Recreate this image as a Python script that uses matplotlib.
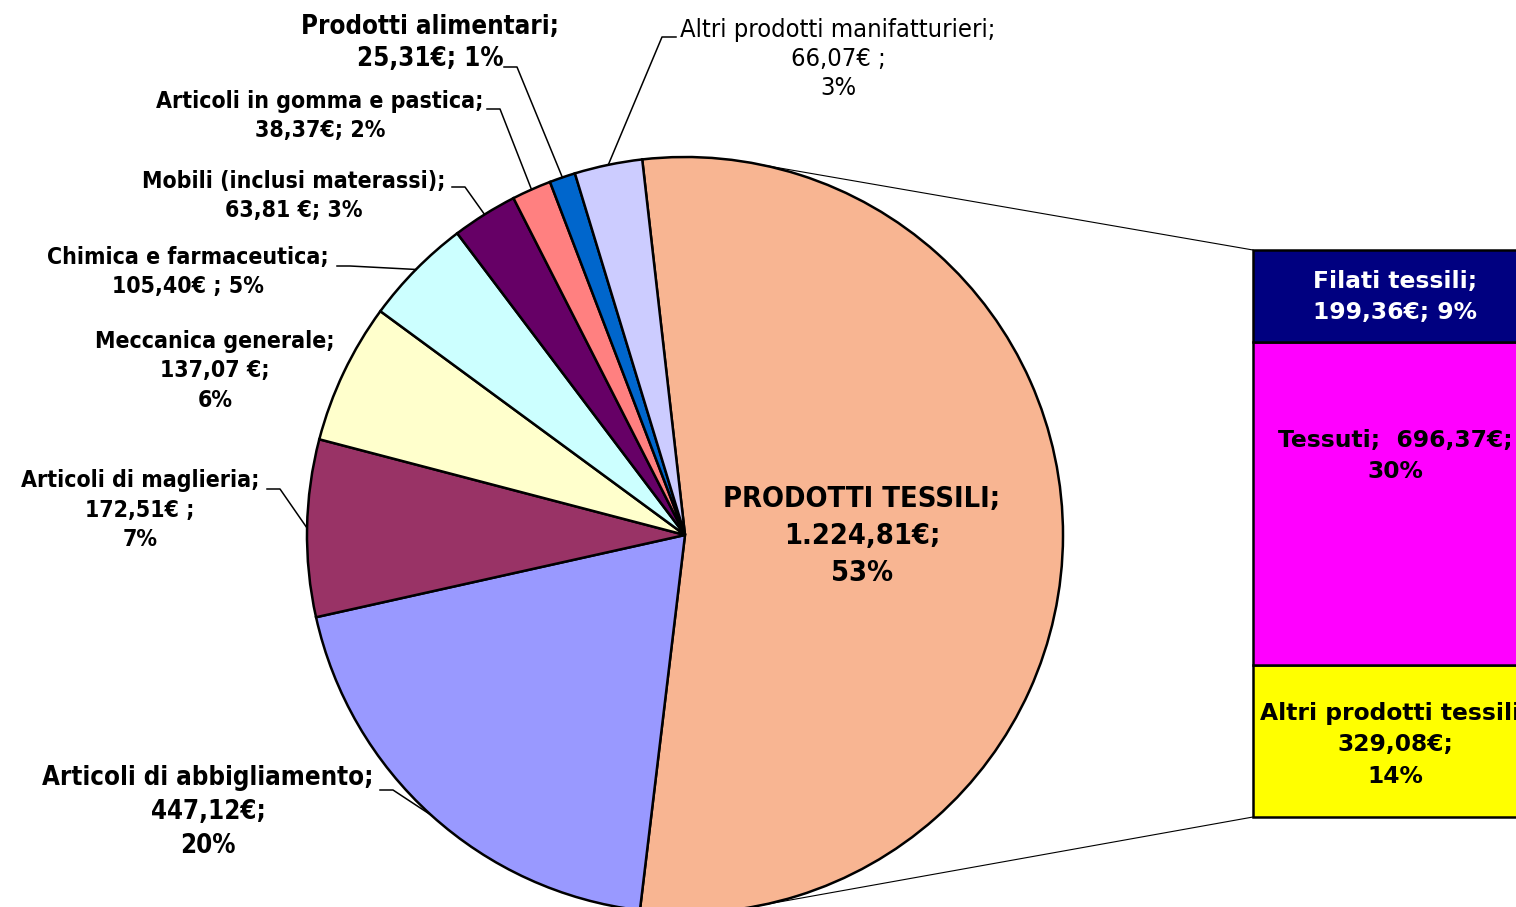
import numpy as np
import matplotlib
matplotlib.use("Agg")
import matplotlib.pyplot as plt

# pie data (€ and share)
pie_labels = ["PRODOTTI TESSILI", "Articoli di abbigliamento", "Articoli di maglieria",
              "Meccanica generale", "Chimica e farmaceutica", "Mobili (inclusi materassi)",
              "Articoli in gomma e pastica", "Prodotti alimentari",
              "Altri prodotti manifatturieri"]
pie_values = [1224.81, 447.12, 172.51, 137.07, 105.40, 63.81, 38.37, 25.31, 66.07]
pie_colors = ["#F8B592", "#9999FF", "#993366", "#FFFFCC", "#CCFFFF", "#660066",
              "#FF8080", "#0066CC", "#CCCCFF"]
pie_texts = ["PRODOTTI TESSILI;\n1.224,81€;\n53%",
             "Articoli di abbigliamento;\n447,12€;\n20%",
             "Articoli di maglieria;\n172,51€ ;\n7%",
             "Meccanica generale;\n137,07 €;\n6%",
             "Chimica e farmaceutica;\n105,40€ ; 5%",
             "Mobili (inclusi materassi);\n63,81 €; 3%",
             "Articoli in gomma e pastica;\n38,37€; 2%",
             "Prodotti alimentari;\n25,31€; 1%",
             "Altri prodotti manifatturieri;\n66,07€ ;\n3%"]

# breakdown of PRODOTTI TESSILI (bottom to top)
bar_labels = ["Altri prodotti tessili", "Tessuti", "Filati tessili"]
bar_values = [329.08, 696.37, 199.36]
bar_colors = ["#FFFF00", "#FF00FF", "#000080"]
bar_texts = ["Altri prodotti tessili;\n329,08€;\n14%",
             "Tessuti;  696,37€;\n30%",
             "Filati tessili;\n199,36€; 9%"]

W, H = 1516, 907
def py(y):
    # pixel row (from top) -> data y
    return H - y

fig = plt.figure(figsize=(W / 100, H / 100), dpi=100)
ax = fig.add_axes([0, 0, 1, 1])

cx, cy, R = 685, py(535), 378
start = 96.5
wedges, _ = ax.pie(pie_values, colors=pie_colors, startangle=start, counterclock=False,
                   center=(cx, cy), radius=R, frame=True,
                   wedgeprops=dict(edgecolor="black", linewidth=1.8))

fnt = dict(family="DejaVu Sans", fontstretch="condensed", fontweight="bold",
           color="black", ha="center", va="center")

# label x, y (pixel coords), elbow of leader line, font size, line spacing
lab_pos = [(862, 536, None, 20.8, 1.40),
           (208, 812, (393, 790), 18.5, 1.38),
           (140, 510, (280, 489), 16.6, 1.34),
           (215, 371, None, 16.6, 1.34),
           (188, 272, (350, 266), 16.6, 1.34),
           (294, 196, (465, 187), 16.6, 1.34),
           (320, 116, (500, 109), 16.6, 1.34),
           (430, 43, (517, 67), 18.5, 1.30),
           (838, 59, (662, 37), 18.3, 1.26)]

for w, txt, (x, y, elbow, fs, ls) in zip(wedges, pie_texts, lab_pos):
    kw = dict(fnt)
    kw["fontsize"] = fs
    kw["linespacing"] = ls
    if txt.startswith("Altri"):
        kw["fontweight"] = "normal"
    ax.text(x, py(y), txt, **kw)
    if elbow is not None:
        mid = np.deg2rad((w.theta1 + w.theta2) / 2)
        ex, ey = cx + R * np.cos(mid), cy + R * np.sin(mid)
        hx = elbow[0] - 13 if elbow[0] > x else elbow[0] + 14
        ax.plot([hx, elbow[0], ex], [py(elbow[1]), py(elbow[1]), ey],
                color="black", lw=1.1)

# stacked bar
bx, bw = 1395, 284
bar_top, bar_bot = 250, 817
scale = (bar_bot - bar_top) / sum(bar_values)
bottom = py(bar_bot)
bar_txt_y = [745, 456, 297]
bar_txt_col = ["black", "black", "white"]
for v, c, t, ty, tc in zip(bar_values, bar_colors, bar_texts, bar_txt_y, bar_txt_col):
    ax.bar(bx, v * scale, bottom=bottom, width=bw, color=c, edgecolor="black",
           linewidth=1.8)
    ax.text(bx, py(ty), t, family="DejaVu Sans", fontweight="bold", fontsize=16.8,
            color=tc, ha="center", va="center", linespacing=1.45, clip_on=True)
    bottom += v * scale

# connector lines pie -> bar
for ang, yb in [(78.2, bar_top), (-81.4, bar_bot)]:
    a = np.deg2rad(ang)
    ax.plot([cx + R * np.cos(a), bx - bw / 2], [cy + R * np.sin(a), py(yb)],
            color="black", lw=0.8)

ax.set_xlim(0, W)
ax.set_ylim(0, H)
ax.set_aspect("equal")
ax.axis("off")

fig.savefig("out.png", dpi=100)
